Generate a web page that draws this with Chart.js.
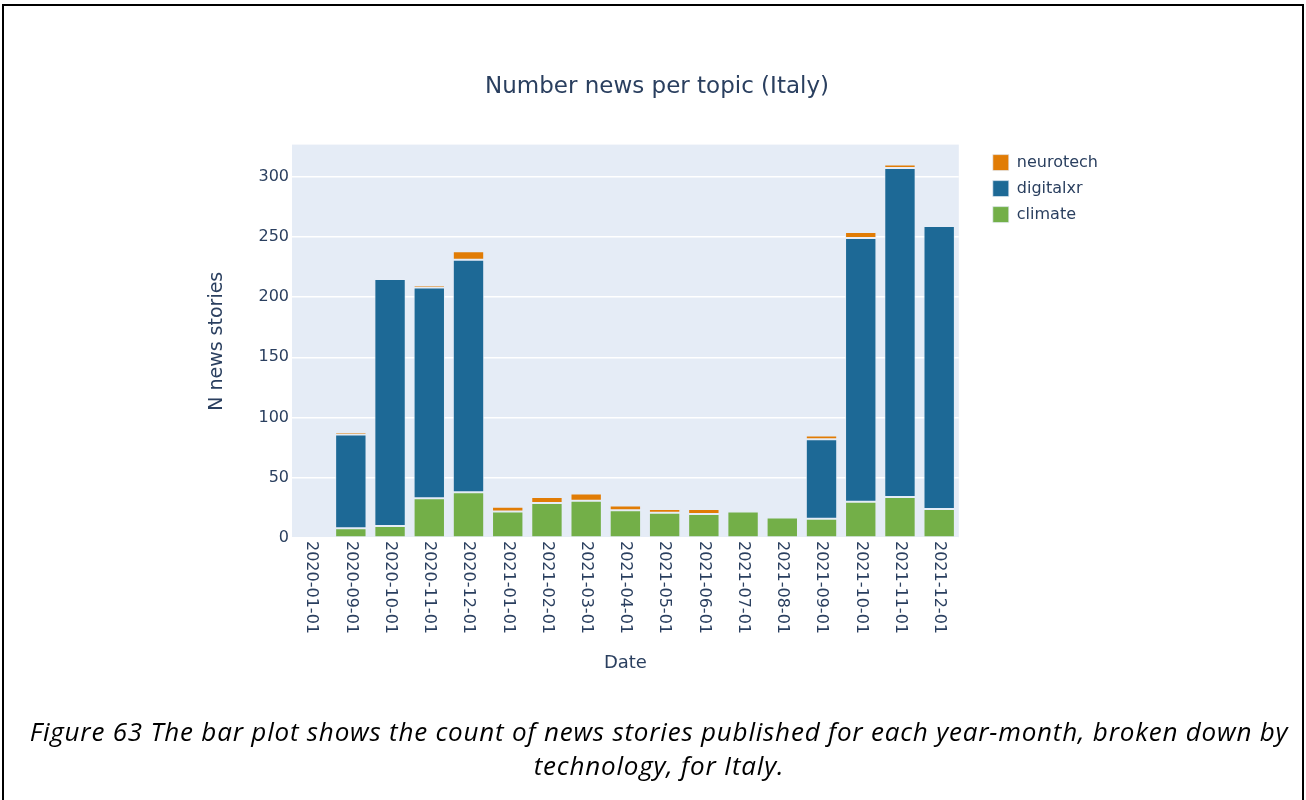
<!DOCTYPE html>
<html>
<head>
<meta charset="utf-8">
<script src="https://cdn.jsdelivr.net/npm/chart.js@4.4.1/dist/chart.umd.min.js"></script>
<style>
  body { margin: 0; background: #fff; width: 1306px; height: 800px; overflow: hidden; position: relative; }
  #frame { position: absolute; left: 2px; top: 4px; width: 1302px; height: 800px; box-sizing: border-box; border: 2px solid #000; border-bottom: none; }
  #chart { position: absolute; left: 0; top: 0; }
  #caption { position: absolute; left: 6px; width: 1306px; top: 714px; text-align: center; font-family: "Open Sans", sans-serif; font-style: italic; font-size: 26px; letter-spacing: 0.8px; line-height: 34px; color: #000; white-space: nowrap; }
</style>
</head>
<body>
<div id="frame"></div>
<canvas id="chart" width="1306" height="800"></canvas>
<div id="caption">Figure 63 The bar plot shows the count of news stories published for each year-month, broken down by<br>technology, for Italy.</div>
<script>
// data
const months = ['2020-01-01', '2020-09-01', '2020-10-01', '2020-11-01', '2020-12-01',
  '2021-01-01', '2021-02-01', '2021-03-01', '2021-04-01', '2021-05-01', '2021-06-01',
  '2021-07-01', '2021-08-01', '2021-09-01', '2021-10-01', '2021-11-01', '2021-12-01']
const climate = [null, 8, 10, 33, 38, 22, 29, 31, 23, 21, 20, 22, 17, 16, 30, 34, 24]
const digitalxr = [null, 78, 205, 175, 193, null, null, null, null, null, null, null, null, 66, 219, 273, 235]
const neurotech = [null, 2, 1, 2, 7, 4, 5, 6, 4, 3, 4, 1, null, 3, 5, 3, null]
const yTicks = [0, 50, 100, 150, 200, 250, 300]

const textColor = '#2a3f5f'
Chart.defaults.font.family = '"DejaVu Sans", Verdana, sans-serif'
Chart.defaults.color = textColor

// plot background like plotly
const plotBg = {
  id: 'plotBg',
  beforeDraw(chart) {
    const { ctx, chartArea: a } = chart
    ctx.save()
    ctx.fillStyle = '#E5ECF6'
    ctx.fillRect(a.left, a.top, a.right - a.left, a.bottom - a.top)
    ctx.restore()
  }
}

// x labels rotated clockwise (read top to bottom)
const xLabels = {
  id: 'xLabels',
  afterDraw(chart) {
    const ctx = chart.ctx
    const xs = chart.scales.x
    ctx.save()
    ctx.font = '16px "DejaVu Sans"'
    ctx.fillStyle = textColor
    ctx.textAlign = 'left'
    ctx.textBaseline = 'middle'
    months.forEach((m, i) => {
      ctx.save()
      ctx.translate(xs.getPixelForValue(i), chart.chartArea.bottom + 3)
      ctx.rotate(Math.PI / 2)
      ctx.fillText(m, 0, 0)
      ctx.restore()
    })
    ctx.restore()
  }
}

const edge = 'rgba(229,236,246,0.7)'

new Chart(document.getElementById('chart'), {
  type: 'bar',
  data: {
    labels: months,
    datasets: [
      { label: 'climate', data: climate, backgroundColor: 'rgb(115,175,72)', borderColor: edge, borderWidth: 1, borderSkipped: false },
      { label: 'digitalxr', data: digitalxr, backgroundColor: 'rgb(29,105,150)', borderColor: edge, borderWidth: 1, borderSkipped: false },
      { label: 'neurotech', data: neurotech, backgroundColor: 'rgb(225,124,5)', borderColor: edge, borderWidth: 1, borderSkipped: false }
    ]
  },
  options: {
    responsive: false,
    animation: false,
    layout: { padding: { left: 206, right: 198, top: 0, bottom: 122 } },
    datasets: { bar: { barPercentage: 0.8, categoryPercentage: 1 } },
    plugins: {
      title: {
        display: true,
        text: 'Number news per topic (Italy)',
        font: { size: 23, weight: 'normal' },
        color: textColor,
        padding: { top: 73, bottom: 44 }
      },
      legend: {
        position: 'right',
        align: 'start',
        fullSize: false,
        reverse: true,
        labels: { boxWidth: 16, boxHeight: 16, padding: 10, font: { size: 16 }, color: textColor }
      },
      tooltip: { enabled: false }
    },
    scales: {
      x: {
        stacked: true,
        grid: { display: false },
        border: { display: false },
        ticks: { display: false },
        title: { display: true, text: 'Date', font: { size: 18 }, color: textColor, padding: { top: 4, bottom: 4 } },
        afterFit(s) { s.height = 140 }
      },
      y: {
        stacked: true,
        min: 0,
        max: 326.5,
        grid: { color: '#ffffff', lineWidth: 1.5, drawTicks: false },
        border: { display: false },
        ticks: {
          stepSize: 50,
          includeBounds: false,
          padding: 3,
          font: { size: 16 },
          color: textColor
        },
        afterBuildTicks(s) { s.ticks = yTicks.map(v => ({ value: v })) },
        title: { display: true, text: 'N news stories', font: { size: 19 }, color: textColor, padding: { top: 0, bottom: 0 } },
        afterFit(s) { s.width = 86 }
      },
      gap: {
        type: 'linear',
        position: 'right',
        grid: { display: false },
        border: { display: false },
        ticks: { display: false },
        afterFit(s) { s.width = 24 }
      }
    }
  },
  plugins: [plotBg, xLabels]
})
</script>
</body>
</html>
